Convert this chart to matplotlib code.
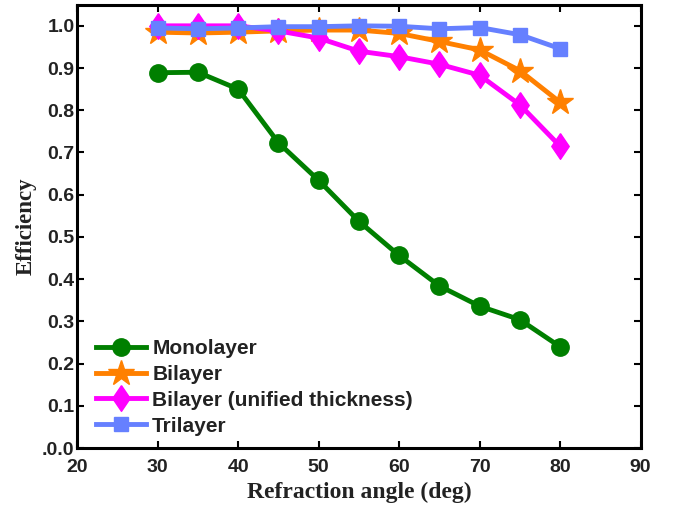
import matplotlib
matplotlib.use("Agg")
import matplotlib.pyplot as plt

angles = [30, 35, 40, 45, 50, 55, 60, 65, 70, 75, 80]
monolayer = [0.889, 0.890, 0.850, 0.723, 0.634, 0.537, 0.456, 0.384, 0.336, 0.304, 0.240]
bilayer = [0.985, 0.983, 0.985, 0.988, 0.990, 0.990, 0.982, 0.963, 0.943, 0.894, 0.819]
bilayer_unified = [1.000, 1.000, 1.000, 0.988, 0.971, 0.940, 0.927, 0.909, 0.883, 0.813, 0.715]
trilayer = [0.995, 0.993, 0.995, 0.998, 0.998, 1.000, 0.999, 0.993, 0.996, 0.979, 0.946]

xticks = [20, 30, 40, 50, 60, 70, 80, 90]
yticks = [0.0, 0.1, 0.2, 0.3, 0.4, 0.5, 0.6, 0.7, 0.8, 0.9, 1.0]
ytick_labels = [".0.0", "0.1", "0.2", "0.3", "0.4", "0.5", "0.6", "0.7", "0.8", "0.9", "1.0"]

fig = plt.figure(figsize=(6.77, 5.08), dpi=100)
ax = fig.add_axes([0.1142, 0.1181, 0.8319, 0.8726])

lw = 3.5
diamond = [(0, 1), (0.68, 0), (0, -1), (-0.68, 0), (0, 1)]
ax.plot(angles, monolayer, color="#007f00", lw=lw, marker="o", ms=12.5, label="Monolayer")
ax.plot(angles, bilayer, color="#ff8000", lw=lw, marker="*", ms=19, label="Bilayer")
ax.plot(angles, bilayer_unified, color="#ff00ff", lw=lw, marker=diamond, ms=18.5, label="Bilayer (unified thickness)")
ax.plot(angles, trilayer, color="#6680ff", lw=lw, marker="s", ms=10, label="Trilayer")

ax.set_xlim(20, 90)
ax.set_ylim(0, 1.05)
ax.set_xticks(xticks)
ax.set_xticklabels([str(t) for t in xticks])
ax.set_yticks(yticks)
ax.set_yticklabels(ytick_labels)

for lab in ax.get_xticklabels() + ax.get_yticklabels():
    lab.set_family("Liberation Sans")
    lab.set_fontweight("bold")
    lab.set_fontsize(14)
    lab.set_color("#222222")

ax.tick_params(direction="in", top=True, right=True, length=5, width=1.5)
ax.tick_params(axis="x", pad=8)
ax.tick_params(axis="y", pad=2)
for s in ax.spines.values():
    s.set_linewidth(2.2)

ax.set_xlabel("Refraction angle (deg)", family="Liberation Serif", fontweight="bold", fontsize=17, color="#222222", labelpad=4)
ax.set_ylabel("Efficiency", family="Liberation Serif", fontweight="bold", fontsize=16.5, color="#222222", labelpad=4)

leg = ax.legend(loc="center left", bbox_to_anchor=(0.033, 0.137), frameon=False,
                borderpad=0, borderaxespad=0,
                prop={"family": "Liberation Sans", "weight": "bold", "size": 15},
                handlelength=2.4, handletextpad=0.3, labelspacing=0.33)
for t in leg.get_texts():
    t.set_color("#222222")

fig.savefig("out.png", dpi=100)
